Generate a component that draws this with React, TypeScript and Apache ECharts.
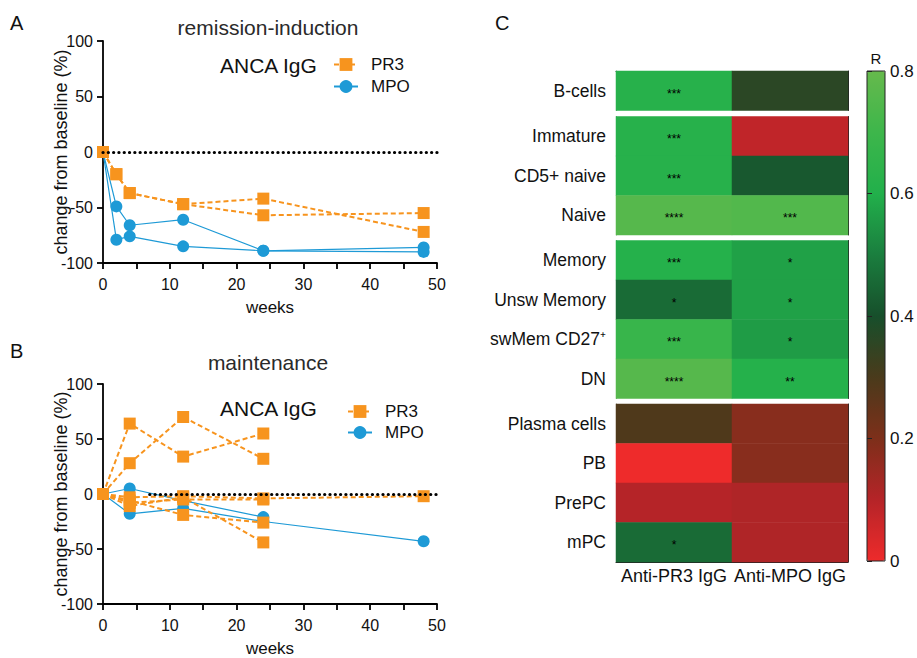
import React, { useEffect, useRef } from "react";
import * as echarts from "echarts";

const FONT = '"Liberation Sans", Arial, Helvetica, sans-serif';
const ORANGE = "#f7941e";
const BLUE = "#1e9ad6";
const TEXT = "#111";

// Panel A: remission-induction
const weeksInduction = [0, 2, 4, 12, 24, 48];
const pr3Induction = [
  [0, -20, -37, -47, -42, -72],
  [0, -20, -37, -47, -57, -55],
];
const mpoInduction = [
  [0, -49, -66, -61, -89, -86],
  [0, -79, -76, -85, -89, -90],
];

// Panel B: maintenance
const weeksMaintenance = [0, 4, 12, 24, 48];
const pr3Maintenance = [
  [0, 64, 34, 55, null],
  [0, 28, 70, 32, null],
  [0, -3, -2, -4, -2],
  [0, -6, -19, -26, null],
  [0, -11, -3, -44, null],
  [0, -8, -5, -5, null],
];
const mpoMaintenance = [
  [0, 5, -6, -21, null],
  [0, -18, -13, -25, -43],
];

const weekTicks = [0, 10, 20, 30, 40, 50];
const changeTicks = [-100, -50, 0, 50, 100];

// Panel C: heatmap
const colLabels = ["Anti-PR3 IgG", "Anti-MPO IgG"];
const rowLabels = [
  "B-cells",
  "Immature",
  "CD5+ naive",
  "Naive",
  "Memory",
  "Unsw Memory",
  "swMem CD27\u207A",
  "DN",
  "Plasma cells",
  "PB",
  "PrePC",
  "mPC",
];
const groupSizes = [1, 3, 4, 4];
const rPR3 = [0.62, 0.62, 0.62, 0.76, 0.61, 0.46, 0.68, 0.76, 0.29, 0.0, 0.1, 0.46];
const rMPO = [0.36, 0.08, 0.42, 0.75, 0.57, 0.57, 0.56, 0.61, 0.18, 0.18, 0.11, 0.11];
const sigPR3 = ["***", "***", "***", "****", "***", "*", "***", "****", "", "", "", "*"];
const sigMPO = ["", "", "", "***", "*", "*", "*", "**", "", "", "", ""];
const colorbarTicks = [0, 0.2, 0.4, 0.6, 0.8];
const colorStops = [
  "#ee2b2b", "#b52428", "#7d2f1a", "#4a3a1b", "#174f2b",
  "#1a7e3e", "#22b04b", "#3db64b", "#66b94c",
];

function buildOption() {
  const grid: any[] = [];
  const xAxis: any[] = [];
  const yAxis: any[] = [];
  const series: any[] = [];
  const graphic: any[] = [];

  // ---------- line panels ----------
  const linePanels = [
    { top: 41, weeks: weeksInduction, pr3: pr3Induction, mpo: mpoInduction, zeroFrom: 0 },
    { top: 384, weeks: weeksMaintenance, pr3: pr3Maintenance, mpo: mpoMaintenance, zeroFrom: 7 },
  ];
  linePanels.forEach((p, i) => {
    grid.push({ left: 103, top: p.top, width: 334, height: 222 });
    const xi = xAxis.length;
    xAxis.push({
      gridIndex: i,
      type: "value",
      min: 0,
      max: 50,
      interval: 5,
      axisLine: { onZero: false, lineStyle: { color: "#000", width: 1.8 } },
      axisTick: { show: true, length: 6, lineStyle: { color: "#000", width: 1.8 } },
      axisLabel: {
        fontSize: 16,
        color: TEXT,
        fontFamily: FONT,
        margin: 13,
        formatter: (v: number) => (weekTicks.includes(v) ? String(v) : ""),
      },
      splitLine: { show: false },
      name: "weeks",
      nameLocation: "middle",
      nameGap: 36,
      nameMoveOverlap: false,
      nameTextStyle: { fontSize: 17, color: TEXT, fontFamily: FONT },
    });
    const yi = yAxis.length;
    yAxis.push({
      gridIndex: i,
      type: "value",
      min: -100,
      max: 100,
      interval: 50,
      axisLine: { show: true, onZero: false, lineStyle: { color: "#000", width: 1.8 } },
      axisTick: { show: true, length: 6, lineStyle: { color: "#000", width: 1.8 } },
      axisLabel: {
        fontSize: 16,
        color: TEXT,
        fontFamily: FONT,
        margin: 10,
        formatter: (v: number) => (changeTicks.includes(v) ? String(v) : ""),
      },
      splitLine: { show: false },
      name: "change from baseline (%)",
      nameLocation: "middle",
      nameRotate: 90,
      nameGap: 33,
      nameMoveOverlap: false,
      nameTextStyle: { fontSize: 18, color: TEXT, fontFamily: FONT },
    });
    // dotted zero line
    series.push({
      type: "line",
      name: "zero",
      xAxisIndex: xi,
      yAxisIndex: yi,
      data: [],
      z: 1,
      markLine: {
        silent: true,
        symbol: "none",
        label: { show: false },
        animation: false,
        lineStyle: { color: "#000", width: 3.2, type: [0.1, 5.2], cap: "round" },
        data: [[{ coord: [p.zeroFrom, 0] }, { coord: [50, 0] }]],
      },
    });
    const mk = (name: string, ys: (number | null)[], kind: "pr3" | "mpo") => {
      const color = kind === "pr3" ? ORANGE : BLUE;
      const data: any[] = [];
      p.weeks.forEach((w, k) => {
        if (ys[k] !== null && ys[k] !== undefined) data.push([w, ys[k]]);
      });
      return {
        type: "line",
        name,
        xAxisIndex: xi,
        yAxisIndex: yi,
        data,
        symbol: kind === "pr3" ? "rect" : "circle",
        symbolSize: 12,
        z: kind === "pr3" ? 3 : 2,
        itemStyle: { color, opacity: 1 },
        lineStyle: kind === "pr3"
          ? { color, width: 2, type: [5, 3] }
          : { color, width: 1.2, type: "solid" },
        emphasis: { disabled: true },
      };
    };
    p.mpo.forEach((ys) => series.push(mk("MPO", ys, "mpo")));
    p.pr3.forEach((ys) => series.push(mk("PR3", ys, "pr3")));
  });

  // ---------- heatmap panel ----------
  const groupTops = [71, 116.5, 240.5, 404];
  const rowH = 39.5;
  const heatSeries: number[] = [];
  let start = 0;
  groupSizes.forEach((size, g) => {
    const gi = grid.length;
    grid.push({ left: 616, top: groupTops[g], width: 232, height: size * rowH });
    const labels = rowLabels.slice(start, start + size);
    const xi = xAxis.length;
    xAxis.push({
      gridIndex: gi,
      type: "category",
      data: colLabels,
      position: "bottom",
      axisLine: { show: g === 3, lineStyle: { color: "#222", width: 1 } },
      axisTick: { show: false },
      axisLabel: { show: g === 3, interval: 0, fontSize: 18, color: TEXT, fontFamily: FONT, margin: 5 },
      splitLine: { show: false },
    });
    if (g === 0) {
      xAxis.push({
        gridIndex: gi,
        type: "category",
        data: colLabels,
        position: "top",
        axisLine: { show: true, lineStyle: { color: "#222", width: 1 } },
        axisTick: { show: false },
        axisLabel: { show: false },
      });
    }
    const yi = yAxis.length;
    yAxis.push({
      gridIndex: gi,
      type: "category",
      data: labels,
      inverse: true,
      axisLine: { show: true, lineStyle: { color: "#888", width: 1 } },
      axisTick: { show: false },
      axisLabel: { interval: 0, fontSize: 17.5, color: TEXT, fontFamily: FONT, margin: 10 },
      splitLine: { show: false },
    });
    yAxis.push({
      gridIndex: gi,
      type: "category",
      data: labels,
      inverse: true,
      position: "right",
      axisLine: { show: true, lineStyle: { color: "#222", width: 1 } },
      axisTick: { show: false },
      axisLabel: { show: false },
    });
    const data: any[] = [];
    const s0 = start;
    labels.forEach((_, r) => {
      data.push([0, r, rPR3[s0 + r]]);
      data.push([1, r, rMPO[s0 + r]]);
    });
    heatSeries.push(series.length);
    series.push({
      type: "heatmap",
      name: "R" + g,
      xAxisIndex: xi,
      yAxisIndex: yi,
      data,
      itemStyle: { borderWidth: 0 },
      emphasis: { disabled: true },
      label: {
        show: true,
        fontSize: 12,
        color: "#000",
        fontFamily: FONT,
        offset: [0, 3],
        formatter: (prm: any) => {
          const c = prm.value[0];
          const r = prm.value[1];
          return (c === 0 ? sigPR3 : sigMPO)[s0 + r];
        },
      },
    });
    start += size;
  });

  // ---------- colorbar axis ----------
  const cg = grid.length;
  grid.push({
    left: 867,
    top: 71,
    width: 18,
    height: 490,
    show: true,
    borderColor: "#222",
    borderWidth: 1,
    backgroundColor: "transparent",
    z: 10,
  });
  const cxi = xAxis.length;
  xAxis.push({ gridIndex: cg, type: "value", min: 0, max: 1, show: false });
  const cyi = yAxis.length;
  yAxis.push({
    gridIndex: cg,
    type: "value",
    min: 0,
    max: 0.8,
    interval: 0.2,
    position: "right",
    z: 10,
    axisLine: { show: false },
    axisTick: { show: true, length: 5, lineStyle: { color: "#222", width: 1 } },
    axisLabel: {
      fontSize: 17,
      color: TEXT,
      fontFamily: FONT,
      margin: 5,
      formatter: (v: number) => {
        const t = colorbarTicks.find((c) => Math.abs(c - v) < 1e-6);
        return t === undefined ? "" : t === 0 ? "0" : t.toFixed(1);
      },
    },
    splitLine: { show: false },
  });
  series.push({ type: "scatter", name: "cb", xAxisIndex: cxi, yAxisIndex: cyi, data: [] });

  // ---------- texts ----------
  const txt = (text: string, x: number, y: number, fontSize: number, align = "left", color = TEXT) => ({
    type: "text",
    x,
    y,
    silent: true,
    style: {
      text,
      fontSize,
      fontFamily: FONT,
      fill: color,
      textAlign: align,
      textVerticalAlign: "middle",
    },
  });
  graphic.push(txt("A", 10, 23, 20));
  graphic.push(txt("B", 10, 351, 20));
  graphic.push(txt("C", 495, 23, 20));
  graphic.push(txt("remission-induction", 268, 27, 21, "center", "#2a2a2a"));
  graphic.push(txt("maintenance", 268, 362, 21, "center", "#2a2a2a"));
  graphic.push(txt("ANCA IgG", 220, 65, 21));
  graphic.push(txt("ANCA IgG", 220, 408, 21));
  graphic.push(txt("R", 876, 58, 15, "center"));

  const legendBase = {
    orient: "vertical",
    itemWidth: 24,
    itemHeight: 16,
    data: ["PR3", "MPO"],
    selectedMode: false,
    textStyle: { fontSize: 17, color: TEXT, fontFamily: FONT, padding: [0, 0, 0, 8] },
  };

  return {
    animation: false,
    backgroundColor: "#fff",
    textStyle: { fontFamily: FONT },
    grid,
    xAxis,
    yAxis,
    series,
    graphic,
    legend: [
      { ...legendBase, left: 328, top: 51, itemGap: 5 },
      { ...legendBase, left: 342, top: 398, itemGap: 4 },
    ],
    visualMap: {
      type: "continuous",
      min: 0,
      max: 0.8,
      seriesIndex: heatSeries,
      left: 867,
      top: 71,
      itemWidth: 18,
      itemHeight: 490,
      padding: 0,
      calculable: false,
      hoverLink: false,
      inRange: { color: colorStops },
    },
  };
}

export default function App() {
  const ref = useRef<HTMLDivElement>(null);
  useEffect(() => {
    if (!ref.current) return;
    const chart = echarts.init(ref.current, null, { renderer: "svg" });
    chart.setOption(buildOption() as any);
    return () => chart.dispose();
  }, []);
  return (
    <div
      ref={ref}
      style={{ position: "fixed", left: 0, top: 0, width: 917, height: 658, background: "#fff" }}
    />
  );
}
